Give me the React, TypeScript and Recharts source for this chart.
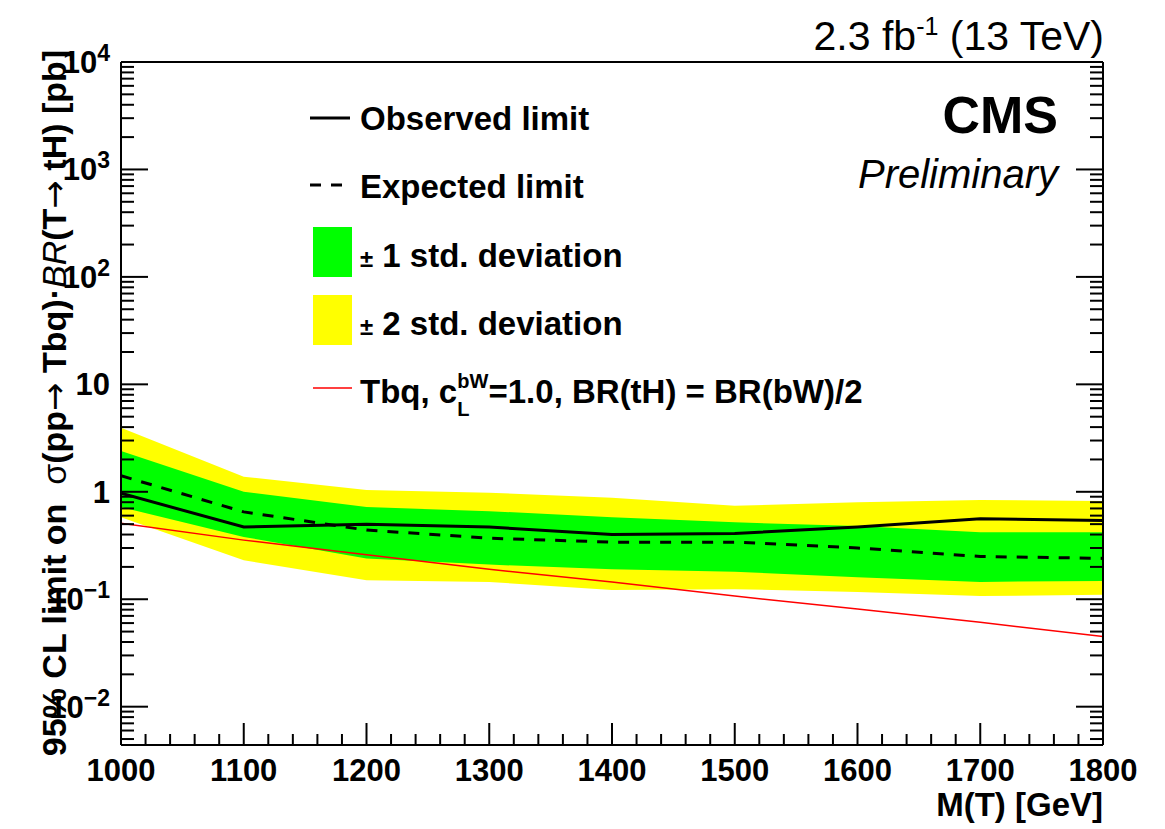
import { ComposedChart, Area, Line, XAxis, YAxis } from 'recharts';

// T -> tH limit
const MASS = [1000, 1100, 1200, 1300, 1400, 1500, 1600, 1700, 1800];
const OBSERVED = [0.97, 0.47, 0.5, 0.47, 0.4, 0.41, 0.47, 0.56, 0.54];
const EXPECTED = [1.41, 0.65, 0.44, 0.37, 0.34, 0.34, 0.3, 0.25, 0.24];
const ONE_SIGMA_LO = [0.72, 0.38, 0.24, 0.21, 0.19, 0.18, 0.16, 0.145, 0.148];
const ONE_SIGMA_HI = [2.4, 1.0, 0.72, 0.66, 0.58, 0.52, 0.48, 0.42, 0.42];
const TWO_SIGMA_LO = [0.58, 0.23, 0.15, 0.145, 0.122, 0.124, 0.117, 0.107, 0.11];
const TWO_SIGMA_HI = [3.95, 1.38, 1.04, 0.98, 0.88, 0.74, 0.8, 0.84, 0.82];
const THEORY = [0.51, 0.355, 0.26, 0.19, 0.145, 0.107, 0.081, 0.061, 0.045];

const X_DOMAIN = [1000, 1800];
const X_TICKS: number[] = [];
for (let m = 1000; m <= 1800; m += 20) X_TICKS.push(m);

const Y_DOMAIN = [0.0044, 10000];
const Y_TICKS: number[] = [];
for (let e = -3; e <= 3; e++) {
  for (let k = 1; k <= 9; k++) {
    const v = Number((k * 10 ** e).toPrecision(2));
    if (v >= Y_DOMAIN[0]) Y_TICKS.push(v);
  }
}
Y_TICKS.push(10000);

const data = MASS.map((m, i) => ({
  mass: m,
  observed: OBSERVED[i],
  expected: EXPECTED[i],
  oneSigma: [ONE_SIGMA_LO[i], ONE_SIGMA_HI[i]],
  twoSigma: [TWO_SIGMA_LO[i], TWO_SIGMA_HI[i]],
  theory: THEORY[i],
}));

const FONT = '"Liberation Sans", Arial, Helvetica, sans-serif';
const W = 1150;
const H = 813;
const PAGE_H = 821;

const isDecade = (v: number) => {
  const l = Math.log10(v);
  return Math.abs(l - Math.round(l)) < 1e-6;
};

function BottomTick({ x, y, payload }: any) {
  const v = payload.value;
  const major = v % 100 === 0;
  return (
    <g>
      <line x1={x} y1={y} x2={x} y2={y - (major ? 22 : 11)} stroke="#000" strokeWidth={2} />
      {major && (
        <text x={x} y={y + 36} textAnchor="middle" fontFamily={FONT} fontWeight="bold" fontSize={31} fill="#000">
          {v}
        </text>
      )}
    </g>
  );
}

function TopTick({ x, y, payload }: any) {
  const major = payload.value % 100 === 0;
  return <line x1={x} y1={y} x2={x} y2={y + (major ? 22 : 11)} stroke="#000" strokeWidth={2} />;
}

function LeftTick({ x, y, payload }: any) {
  const v = payload.value;
  const major = isDecade(v);
  const e = Math.round(Math.log10(v));
  let label = null;
  if (major) {
    label = (
      <text x={x - 11} y={y + 11} textAnchor="end" fontFamily={FONT} fontWeight="bold" fontSize={31} fill="#000">
        {e === 0 ? '1' : '10'}
        {e !== 0 && e !== 1 && (
          <tspan dy={-12} fontSize={23}>
            {e < 0 ? '\u2212' + -e : e}
          </tspan>
        )}
      </text>
    );
  }
  return (
    <g>
      <line x1={x} y1={y} x2={x + (major ? 27 : 13)} y2={y} stroke="#000" strokeWidth={2} />
      {label}
    </g>
  );
}

function RightTick({ x, y, payload }: any) {
  const major = isDecade(payload.value);
  return <line x1={x} y1={y} x2={x - (major ? 27 : 13)} y2={y} stroke="#000" strokeWidth={2} />;
}

function Overlay() {
  const txt = { fontFamily: FONT, fill: '#000' };
  const lx = 352;
  const arrow = { fontFamily: '"DejaVu Sans", sans-serif', fontWeight: 'normal' as const };
  return (
    <svg
      width={W}
      height={PAGE_H}
      style={{ position: 'absolute', left: 0, top: 0, pointerEvents: 'none', overflow: 'visible' }}
    >
      <text x={1096} y={42} textAnchor="end" fontSize={41} {...txt}>
        2.3 fb<tspan dy={-15} fontSize={25}>-1</tspan>
        <tspan dy={15}> (13 TeV)</tspan>
      </text>
      <text x={1050} y={125} textAnchor="end" fontSize={52} fontWeight="bold" {...txt}>CMS</text>
      <text x={1050} y={180} textAnchor="end" fontSize={40} fontStyle="italic" {...txt}>Preliminary</text>

      {/* legend */}
      <line x1={302} x2={342} y1={110} y2={110} stroke="#000" strokeWidth={3} />
      <text x={lx} y={122} fontSize={33} fontWeight="bold" {...txt}>Observed limit</text>
      <line x1={302} x2={342} y1={177} y2={177} stroke="#000" strokeWidth={3} strokeDasharray="11 10" />
      <text x={lx} y={190} fontSize={33} fontWeight="bold" {...txt}>Expected limit</text>
      <rect x={305} y={219} width={39} height={50} fill="#00ff00" />
      <text x={lx} y={259} fontSize={33} fontWeight="bold" {...txt}>
        <tspan fontSize={24}>±</tspan> 1 std. deviation
      </text>
      <rect x={305} y={287} width={39} height={50} fill="#ffff00" />
      <text x={lx} y={327} fontSize={33} fontWeight="bold" {...txt}>
        <tspan fontSize={24}>±</tspan> 2 std. deviation
      </text>
      <line x1={305} x2={344} y1={380} y2={380} stroke="#ff0000" strokeWidth={1.5} />
      <text x={lx} y={395} fontSize={33} fontWeight="bold" {...txt}>
        Tbq, c
        <tspan dy={-15} fontSize={20}>bW</tspan>
        <tspan dx={-31} dy={28} fontSize={20}>L</tspan>
        <tspan dx={19} dy={-13}>=1.0, BR(tH) = BR(bW)/2</tspan>
      </text>

      {/* axis titles */}
      <text
        transform="translate(58,395) rotate(-90)"
        textAnchor="middle"
        fontSize={34}
        fontWeight="bold"
        style={{ whiteSpace: 'pre' }}
        {...txt}
      >
        {'95% CL limit on  '}
        <tspan fontWeight="normal">σ</tspan>
        {'(pp'}
        <tspan {...arrow}>{'\u2192'}</tspan>
        {' Tbq)\u00b7'}
        <tspan fontWeight="normal" fontStyle="italic">BR</tspan>
        {'(T'}
        <tspan {...arrow}>{'\u2192'}</tspan>
        {' tH) [pb]'}
      </text>
      <text x={1095} y={808} textAnchor="end" fontSize={33} fontWeight="bold" {...txt}>M(T) [GeV]</text>
    </svg>
  );
}

export default function App() {
  return (
    <div style={{ position: 'relative', width: W, height: PAGE_H, background: '#fff' }}>
      <ComposedChart width={W} height={H} data={data} margin={{ top: 0, right: 0, bottom: 0, left: 0 }}>
        <XAxis
          dataKey="mass"
          type="number"
          domain={X_DOMAIN}
          ticks={X_TICKS}
          interval={0}
          height={76}
          tickSize={0}
          tickMargin={0}
          tickLine={false}
          tick={(p: any) => <BottomTick {...p} />}
          axisLine={{ stroke: '#000', strokeWidth: 2 }}
          allowDataOverflow
        />
        <XAxis
          xAxisId="top"
          orientation="top"
          type="number"
          domain={X_DOMAIN}
          ticks={X_TICKS}
          interval={0}
          height={54}
          tickSize={0}
          tickMargin={0}
          tickLine={false}
          tick={(p: any) => <TopTick {...p} />}
          axisLine={{ stroke: '#000', strokeWidth: 2 }}
          allowDataOverflow
        />
        <YAxis
          scale="log"
          type="number"
          domain={Y_DOMAIN}
          ticks={Y_TICKS}
          interval={0}
          width={113}
          tickSize={0}
          tickMargin={0}
          tickLine={false}
          tick={(p: any) => <LeftTick {...p} />}
          axisLine={{ stroke: '#000', strokeWidth: 2 }}
          allowDataOverflow
        />
        <YAxis
          yAxisId="right"
          orientation="right"
          scale="log"
          type="number"
          domain={Y_DOMAIN}
          ticks={Y_TICKS}
          interval={0}
          width={55}
          tickSize={0}
          tickMargin={0}
          tickLine={false}
          tick={(p: any) => <RightTick {...p} />}
          axisLine={{ stroke: '#000', strokeWidth: 2 }}
          allowDataOverflow
        />
        <Area type="linear" dataKey="twoSigma" fill="#ffff00" fillOpacity={1} stroke="none" isAnimationActive={false} />
        <Area type="linear" dataKey="oneSigma" fill="#00ff00" fillOpacity={1} stroke="none" isAnimationActive={false} />
        <Line type="linear" dataKey="theory" stroke="#ff0000" strokeWidth={1.5} dot={false} isAnimationActive={false} />
        <Line type="linear" dataKey="expected" stroke="#000" strokeWidth={3} strokeDasharray="11 10" dot={false} isAnimationActive={false} />
        <Line type="linear" dataKey="observed" stroke="#000" strokeWidth={3} dot={false} isAnimationActive={false} />
      </ComposedChart>
      <Overlay />
    </div>
  );
}
